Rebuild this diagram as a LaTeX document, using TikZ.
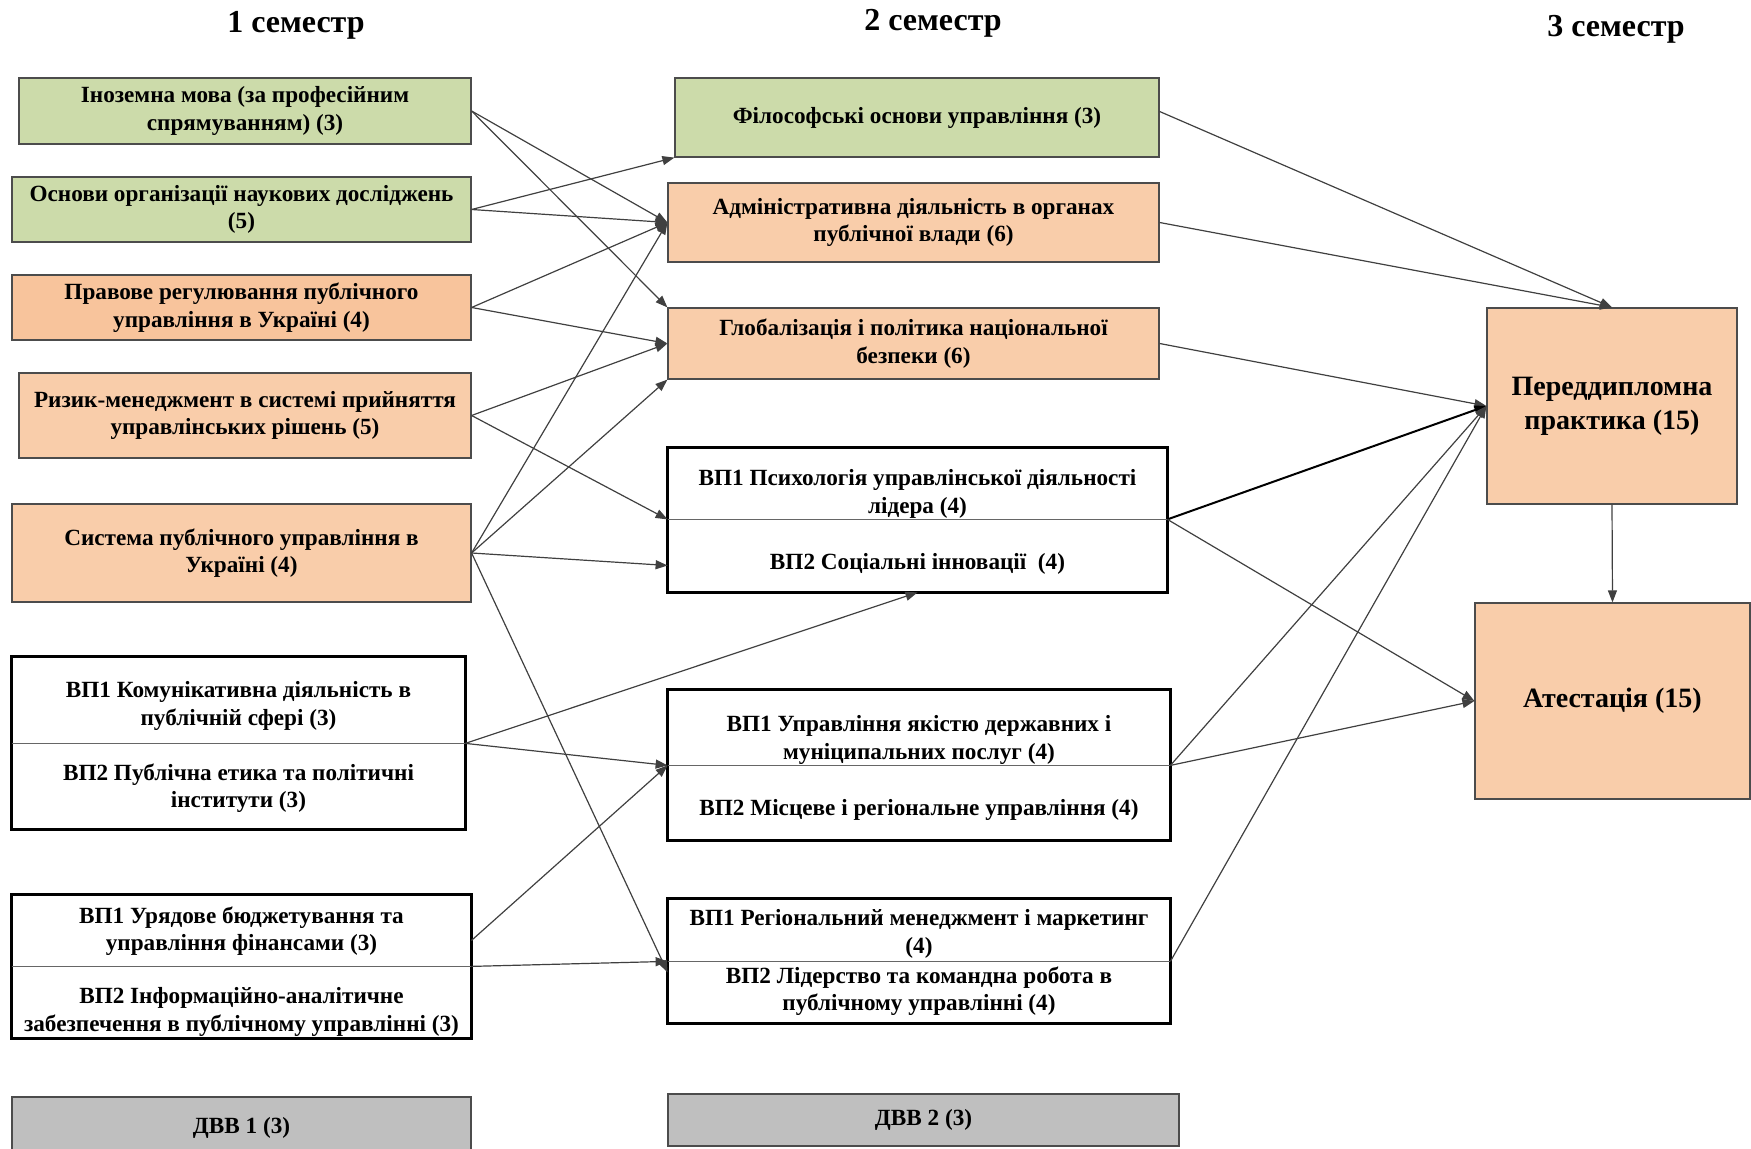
\documentclass[tikz,border=0pt]{standalone}
\usepackage{fontspec}
\setmainfont{Liberation Serif}
\usetikzlibrary{arrows.meta}
\definecolor{grn}{RGB}{204,219,170}
\definecolor{pch}{RGB}{249,205,170}
\definecolor{pchb}{RGB}{248,196,156}
\definecolor{gry}{RGB}{191,191,191}
\definecolor{edgec}{RGB}{64,64,64}
\begin{document}
\begin{tikzpicture}[x=0.5pt,y=-0.5pt,
  wh/.style 2 args={minimum width=#1*0.5pt, minimum height=#2*0.5pt},
  base/.style={inner sep=0pt, align=center, font=\bfseries\fontsize{11.6}{13.8}\selectfont},
  cbox/.style={base, draw=black!70, line width=0.6pt},
  half/.style={inner sep=0pt},
  outer/.style={draw=black, line width=1.3pt},
  divider/.style={draw=black!60, line width=0.5pt},
  conn/.style={draw=edgec, line width=0.6pt, -{Triangle[length=6pt,width=4.5pt]}},
  title/.style={inner sep=0pt, font=\bfseries\fontsize{16}{19}\selectfont},
  big/.style={font=\bfseries\fontsize{14}{17}\selectfont}
]
\useasboundingbox (0,0) rectangle (1751,1149);

% titles
\node[title] (t1) at (296,25) {1 семестр};
\node[title] (t2) at (933,23) {2 семестр};
\node[title] (t3) at (1616,29) {3 семестр};

% column 1
\node[cbox, fill=grn, wh={452}{66}] (a1) at (245,111) {Іноземна мова (за професійним\\спрямуванням) (3)};
\node[cbox, fill=grn, wh={459}{65}] (a2) at (241.5,209.5) {Основи організації наукових досліджень\\(5)};
\node[cbox, fill=pchb, wh={459}{65}] (a3) at (241.5,307.5) {Правове регулювання публічного\\управління в Україні (4)};
\node[cbox, fill=pch, wh={452}{85}] (a4) at (245,415.5) {Ризик-менеджмент в системі прийняття\\управлінських рішень (5)};
\node[cbox, fill=pch, wh={459}{98}] (a5) at (241.5,553) {Система публічного управління в\\Україні (4)};

\node[half, wh={453}{86}] (a6t) at (238.5,700) {};
\node[half, wh={453}{86}] (a6b) at (238.5,786) {};
\draw[outer] (a6t.north west) rectangle (a6b.south east);
\draw[divider] (a6t.south west) -- (a6t.south east);
\node[base] (a6tx) at (238.5,706) {ВП1 Комунікативна діяльність в\\публічній сфері (3)};
\node[base] (a6bx) at (238.5,788) {ВП2 Публічна етика та політичні\\інститути (3)};

\node[half, wh={459}{71}] (a7t) at (241.5,930.5) {};
\node[half, wh={459}{72}] (a7b) at (241.5,1002) {};
\draw[outer] (a7t.north west) rectangle (a7b.south east);
\draw[divider] (a7t.south west) -- (a7t.south east);
\node[base] (a7tx) at (241.5,931) {ВП1 Урядове бюджетування та\\управління фінансами (3)};
\node[base] (a7bx) at (241.5,1012) {ВП2 Інформаційно-аналітичне\\забезпечення в публічному управлінні (3)};

\node[cbox, fill=gry, wh={459}{62}] (d1) at (241.5,1128) {ДВВ 1 (3)};

% column 2
\node[cbox, fill=grn, wh={484}{79}] (b1) at (917,117.5) {Філософські основи управління (3)};
\node[cbox, fill=pch, wh={491}{79}] (b2) at (913.5,222.5) {Адміністративна діяльність в органах\\публічної влади (6)};
\node[cbox, fill=pch, wh={491}{71}] (b3) at (913.5,343.5) {Глобалізація і політика національної\\безпеки (6)};

\node[half, wh={499}{71}] (b4t) at (917.5,483.5) {};
\node[half, wh={499}{73}] (b4b) at (917.5,555.5) {};
\draw[outer] (b4t.north west) rectangle (b4b.south east);
\draw[divider] (b4t.south west) -- (b4t.south east);
\node[base] (b4tx) at (917.5,494) {ВП1 Психологія управлінської діяльності\\лідера (4)};
\node[base] (b4bx) at (917.5,564) {ВП2 Соціальні інновації~~(4)};

\node[half, wh={502}{75}] (b5t) at (919,727.5) {};
\node[half, wh={502}{75}] (b5b) at (919,802.5) {};
\draw[outer] (b5t.north west) rectangle (b5b.south east);
\draw[divider] (b5t.south west) -- (b5t.south east);
\node[base] (b5tx) at (919,740) {ВП1 Управління якістю державних і\\муніципальних послуг (4)};
\node[base] (b5bx) at (919,810) {ВП2 Місцеве і регіональне управління (4)};

\node[half, wh={502}{62}] (b6t) at (919,930) {};
\node[half, wh={502}{62}] (b6b) at (919,992) {};
\draw[outer] (b6t.north west) rectangle (b6b.south east);
\draw[divider] (b6t.south west) -- (b6t.south east);
\node[base] (b6tx) at (919,934) {ВП1 Регіональний менеджмент і маркетинг\\(4)};
\node[base] (b6bx) at (919,991) {ВП2 Лідерство та командна робота в\\публічному управлінні (4)};

\node[cbox, fill=gry, wh={511}{52}] (d2) at (923.5,1120) {ДВВ 2 (3)};

% column 3
\node[cbox, big, fill=pch, wh={250}{196}] (c1) at (1612,406) {Переддипломна\\практика (15)};
\node[cbox, big, fill=pch, wh={275}{196}] (c2) at (1612.5,701) {Атестація (15)};

% connectors 1 -> 2
\draw[conn] (a1.east) -- (b2.west);
\draw[conn] (a1.east) -- (b3.north west);
\draw[conn] (a2.east) -- (b1.south west);
\draw[conn] (a2.east) -- (b2.west);
\draw[conn] (a3.east) -- (b2.west);
\draw[conn] (a3.east) -- (b3.west);
\draw[conn] (a4.east) -- (b3.west);
\draw[conn] (a4.east) -- (b4t.south west);
\draw[conn] (a5.east) -- (b2.west);
\draw[conn] (a5.east) -- (b3.south west);
\draw[conn] (a5.east) -- ([yshift=-5pt]b4b.west);
\draw[conn] (a5.east) -- ([yshift=-5.5pt]b6t.south west);
\draw[conn] (a6t.south east) -- (b4b.south);
\draw[conn] (a6t.south east) -- (b5t.south west);
\draw[conn] ([yshift=-5pt]a7t.east) -- (b5t.south west);
\draw[conn] (a7t.south east) -- (b6t.south west);

% connectors 2 -> 3
\draw[conn] ([yshift=3pt]b1.east) -- (c1.north);
\draw[conn] (b2.east) -- (c1.north);
\draw[conn] (b3.east) -- (c1.west);
\draw[conn, draw=black, line width=1pt] (b4t.south east) -- (c1.west);
\draw[conn] (b4t.south east) -- (c2.west);
\draw[conn] (b5t.south east) -- (c1.west);
\draw[conn] (b5t.south east) -- (c2.west);
\draw[conn] (b6t.south east) -- (c1.west);
\draw[conn] (c1.south) -- (c2.north);
\end{tikzpicture}
\end{document}
